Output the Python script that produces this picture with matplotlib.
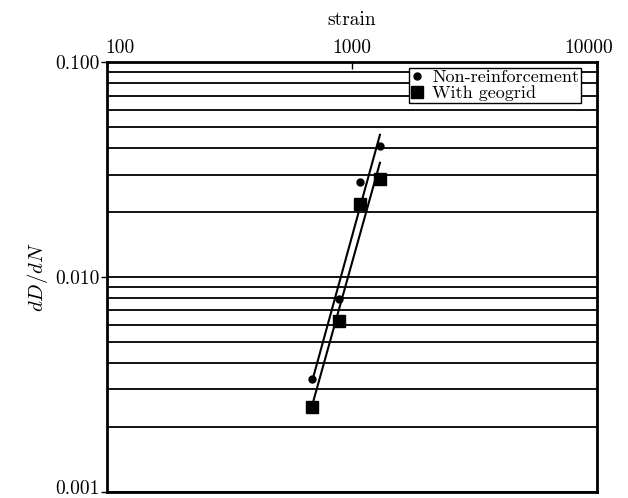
import numpy as np
import matplotlib
matplotlib.use('Agg')
import matplotlib.pyplot as plt
import matplotlib.transforms as mtransforms
from matplotlib.ticker import FixedLocator, NullFormatter, LogLocator

plt.rcParams['font.family'] = 'serif'
plt.rcParams['font.serif'] = ['cmr10', 'DejaVu Serif']
plt.rcParams['mathtext.fontset'] = 'cm'
plt.rcParams['axes.formatter.use_mathtext'] = True

# strain vs dD/dN measurements
strain = [687, 885, 1079, 1300]
rate_plain = [0.00334, 0.00787, 0.0277, 0.0407]
rate_geogrid = [0.00248, 0.00622, 0.0219, 0.0286]
series_names = ['Non-reinforcement', 'With geogrid']
y_tick_labels = ['0.001', '0.010', '0.100']
x_tick_labels = ['100', '1000', '10000']

fig = plt.figure(figsize=(6.28, 4.98), dpi=100)
ax = fig.add_axes([0.170, 0.012, 0.781, 0.863])

ax.set_xscale('log')
ax.set_yscale('log')
ax.set_xlim(100, 10000)
ax.set_ylim(0.001, 0.1)

# horizontal grid at every minor decade step
ax.yaxis.set_minor_locator(LogLocator(base=10, subs=np.arange(2, 10)))
ax.yaxis.set_minor_formatter(NullFormatter())
ax.grid(True, which='both', axis='y', color='black', linewidth=1.3)
ax.grid(False, axis='x', which='both')
ax.tick_params(axis='y', which='minor', length=0)

ax.yaxis.set_major_locator(FixedLocator([0.001, 0.01, 0.1]))
ax.set_yticklabels(y_tick_labels)
ax.tick_params(axis='y', which='major', length=4, width=1, labelsize=14, pad=1)

ax.xaxis.set_major_locator(FixedLocator([100, 1000, 10000]))
ax.xaxis.set_minor_locator(FixedLocator([]))
ax.set_xticklabels(x_tick_labels)
ax.xaxis.tick_top()
ax.xaxis.set_label_position('top')
ax.tick_params(axis='x', which='major', direction='in', length=5, width=1, labelsize=14, pad=4)


def nudge(label, dx, dy):
    label.set_transform(label.get_transform() +
                        mtransforms.ScaledTranslation(dx / 100, dy / 100, fig.dpi_scale_trans))


# keep the end labels inside the figure
xlabels = ax.get_xticklabels()
nudge(xlabels[0], 13, 0)
nudge(xlabels[-1], -9, 0)
nudge(ax.get_yticklabels()[0], 0, 5)

for side in ['left', 'right', 'top', 'bottom']:
    ax.spines[side].set_linewidth(2)
    ax.spines[side].set_color('black')

# power-law fit for each series
lx = np.log10(strain)
x_line = np.logspace(lx.min(), lx.max(), 20)
for rates in (rate_plain, rate_geogrid):
    k, b = np.polyfit(lx, np.log10(rates), 1)
    ax.plot(x_line, 10 ** (k * np.log10(x_line) + b), color='black', linewidth=1.5, zorder=3)

ax.plot(strain, rate_plain, linestyle='none', marker='o', markersize=5,
        color='black', label=series_names[0], zorder=4)
ax.plot(strain, rate_geogrid, linestyle='none', marker='s', markersize=8,
        color='black', label=series_names[1], zorder=4)

leg = ax.legend(loc='upper right', bbox_to_anchor=(0.974, 0.995), fontsize=13,
                frameon=True, fancybox=False, framealpha=1, edgecolor='black',
                handlelength=0.7, handletextpad=0.5, borderpad=0.1, labelspacing=0.0,
                borderaxespad=0.2)
leg.get_frame().set_linewidth(1)

ax.set_xlabel('strain', fontsize=14, labelpad=10)
ax.set_ylabel('$dD/dN$', fontsize=15, labelpad=4)

fig.savefig('out.png', dpi=100)
